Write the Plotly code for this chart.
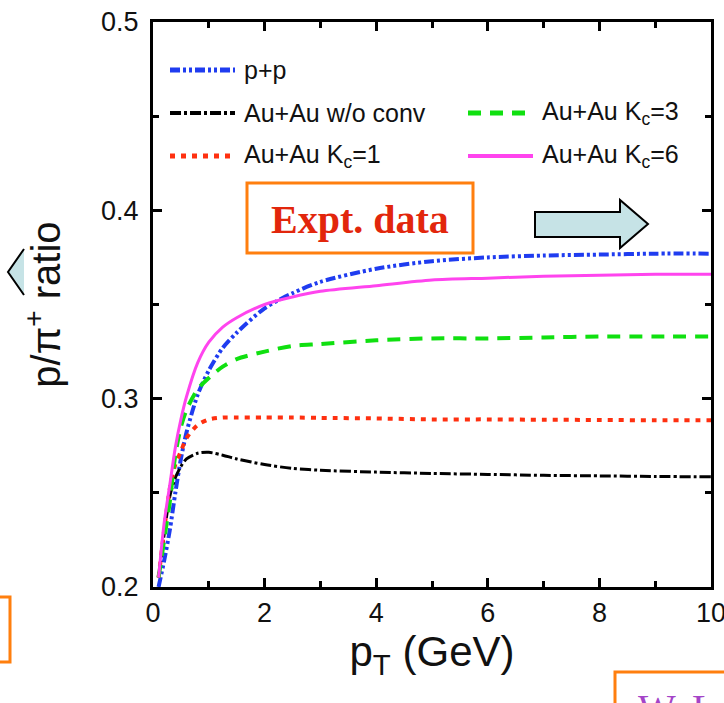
import plotly.graph_objects as go

# pT grid (GeV) shared by all model curves
pt = [0.1, 0.2, 0.3, 0.4, 0.5, 0.6, 0.8, 1.0, 1.25, 1.5, 2.0, 2.5, 3.0, 4.0, 5.0, 6.0, 7.0, 8.0, 9.0, 10.0]

# p/pi+ ratio for each scenario
ratio_pp = [0.200, 0.214, 0.230, 0.250, 0.268, 0.282, 0.302, 0.315, 0.327, 0.335, 0.348, 0.356, 0.362,
            0.369, 0.373, 0.375, 0.376, 0.3765, 0.377, 0.377]
ratio_noconv = [0.205, 0.228, 0.248, 0.258, 0.264, 0.268, 0.271, 0.2715, 0.270, 0.268, 0.265, 0.263, 0.262,
                0.261, 0.2603, 0.2598, 0.2593, 0.259, 0.2587, 0.2585]
ratio_kc1 = [0.205, 0.230, 0.252, 0.265, 0.272, 0.279, 0.286, 0.289, 0.290, 0.290, 0.290, 0.290, 0.2898,
             0.2895, 0.289, 0.289, 0.2888, 0.2887, 0.2885, 0.2885]
ratio_kc3 = [0.205, 0.225, 0.245, 0.270, 0.285, 0.294, 0.305, 0.311, 0.317, 0.321, 0.325, 0.328, 0.329,
             0.331, 0.332, 0.332, 0.3325, 0.333, 0.333, 0.333]
ratio_kc6 = [0.205, 0.234, 0.254, 0.274, 0.289, 0.301, 0.319, 0.330, 0.338, 0.343, 0.350, 0.354, 0.357,
             0.360, 0.363, 0.364, 0.365, 0.3655, 0.366, 0.366]

series_names = ["p+p", "Au+Au w/o conv", "Au+Au K<sub>c</sub>=1", "Au+Au K<sub>c</sub>=3", "Au+Au K<sub>c</sub>=6"]
series_values = [ratio_pp, ratio_noconv, ratio_kc1, ratio_kc3, ratio_kc6]
series_colors = ["#1f3cf0", "#000000", "#ff3010", "#10e010", "#ff44ee"]
series_dash = ["10px,3px,3px,3px,3px,3px", "11px,3px,3px,3px", "5px,6px", "13px,9px", "solid"]
series_width = [4, 3, 4, 4, 3]

x_ticks = [0, 2, 4, 6, 8, 10]
y_ticks = [0.2, 0.3, 0.4, 0.5]

# plot frame in page pixels
L, R, T, B = 153, 711, 22, 587
W, H = 724, 703


def px(x):
    return (x - L) / (R - L)


def py(y):
    return (B - y) / (B - T)


def path(points, close=False):
    s = "M" + " L".join(f"{px(a):.5f},{py(b):.5f}" for a, b in points)
    return s + (" Z" if close else "")


fig = go.Figure()
for name, vals, col, dash, w in zip(series_names, series_values, series_colors, series_dash, series_width):
    fig.add_trace(go.Scatter(x=pt, y=vals, mode="lines", name=name, showlegend=False,
                             line=dict(color=col, dash=dash, width=w, shape="spline", smoothing=0.8)))

shapes = []
annotations = []
sans = "Liberation Sans, Arial, Helvetica, sans-serif"
serif = "Liberation Serif, Times New Roman, serif"

# hand-placed legend (two columns)
legend_rows = [
    (0, 170, 70), (1, 170, 113), (2, 170, 156), (3, 468, 113), (4, 468, 156),
]
for idx, x0, yrow in legend_rows:
    shapes.append(dict(type="line", xref="paper", yref="paper",
                       x0=px(x0), x1=px(x0 + 65), y0=py(yrow), y1=py(yrow),
                       line=dict(color=series_colors[idx], dash=series_dash[idx], width=series_width[idx] + 1)))
    annotations.append(dict(xref="paper", yref="paper", x=px(x0 + 72), y=py(yrow),
                            xanchor="left", yanchor="middle", showarrow=False,
                            text=series_names[idx], font=dict(family=sans, size=25, color="#111111")))

# "Expt. data" callout with arrow
shapes.append(dict(type="rect", xref="paper", yref="paper", x0=px(247), x1=px(473), y0=py(253), y1=py(183),
                   line=dict(color="#ff7f0e", width=3), fillcolor="white", layer="above"))
annotations.append(dict(xref="paper", yref="paper", x=px(360), y=py(219), xanchor="center", yanchor="middle",
                        showarrow=False, text="<b>Expt. data</b>",
                        font=dict(family=serif, size=40, color="#e2260c")))
shapes.append(dict(type="path", xref="paper", yref="paper",
                   path=path([(535, 212), (620, 212), (620, 200), (648, 224), (620, 248), (620, 237), (535, 237)], True),
                   fillcolor="#c6e3e6", line=dict(color="black", width=2)))
# partial arrow head on the left edge
shapes.append(dict(type="path", xref="paper", yref="paper",
                   path=path([(24, 249), (8, 272), (24, 295)]),
                   fillcolor="#c6e3e6", line=dict(color="black", width=2)))
# partial orange boxes at the page edges
shapes.append(dict(type="path", xref="paper", yref="paper",
                   path=path([(-5, 597), (10, 597), (10, 662), (-5, 662)]),
                   line=dict(color="#ff7f0e", width=3)))
shapes.append(dict(type="rect", xref="paper", yref="paper", x0=px(615), x1=px(760), y0=py(740), y1=py(672),
                   line=dict(color="#ff7f0e", width=3)))
annotations.append(dict(xref="paper", yref="paper", x=px(636), y=py(684), xanchor="left", yanchor="top",
                        showarrow=False, text="W. L", font=dict(family=serif, size=40, color="#a444c8")))

axis_common = dict(showline=True, linecolor="black", linewidth=3, mirror="allticks",
                   ticks="inside", ticklen=9, tickwidth=2.5, tickcolor="black",
                   showgrid=False, zeroline=False, ticklabeloverflow="allow",
                   tickfont=dict(family=sans, size=27, color="#111111"))

fig.update_layout(
    width=W, height=H,
    margin=dict(l=L, r=W - R, t=T, b=H - B, autoexpand=False),
    paper_bgcolor="white", plot_bgcolor="white",
    shapes=shapes, annotations=annotations,
    xaxis=dict(range=[0, 10], tickvals=x_ticks, ticktext=[str(v) for v in x_ticks],
               minor=dict(dtick=1, ticks="inside", ticklen=6, tickwidth=2.5, tickcolor="black"),
               title=dict(text="p<sub>T</sub> (GeV)", font=dict(family=sans, size=42, color="#111111"), standoff=8),
               **axis_common),
    yaxis=dict(range=[0.2, 0.5], tickvals=y_ticks, ticktext=[f"{v:.1f}" for v in y_ticks],
               minor=dict(dtick=0.05, ticks="inside", ticklen=6, tickwidth=2.5, tickcolor="black"),
               title=dict(text="p/π<sup>+</sup> ratio", font=dict(family=sans, size=40, color="#111111"), standoff=29),
               ticklabelstandoff=6,
               **axis_common),
)

fig.write_html("out.html")
